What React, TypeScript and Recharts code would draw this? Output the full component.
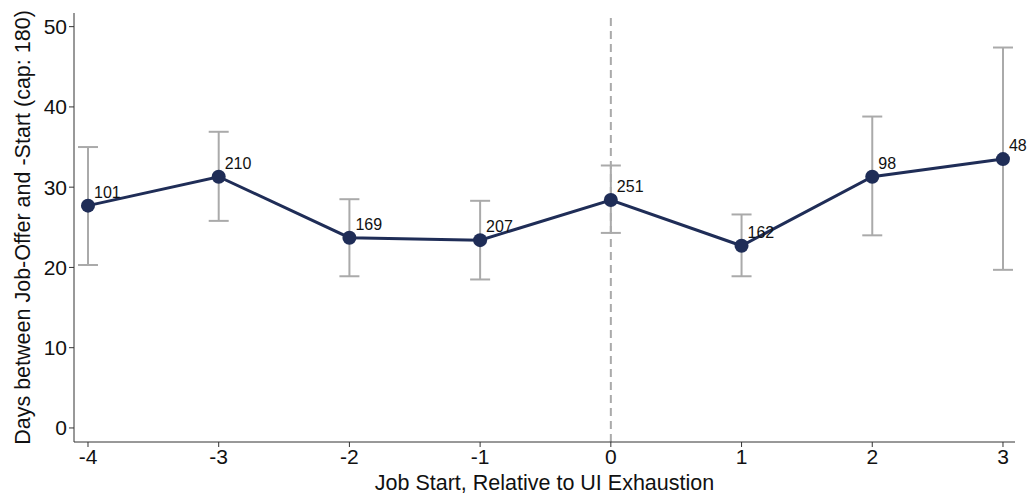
import { LineChart, Line, XAxis, YAxis, ErrorBar, ReferenceLine, LabelList } from 'recharts';

const periods = [-4, -3, -2, -1, 0, 1, 2, 3];
const meanDays = [27.7, 31.3, 23.7, 23.4, 28.4, 22.7, 31.3, 33.5];
const ciLow = [20.3, 25.8, 18.9, 18.5, 24.3, 18.9, 24.0, 19.7];
const ciHigh = [35.0, 36.9, 28.5, 28.3, 32.7, 26.6, 38.8, 47.4];
const counts = [101, 210, 169, 207, 251, 162, 98, 48];
const yTicks = [0, 10, 20, 30, 40, 50];

const data = periods.map((p, i) => ({
  period: p,
  days: meanDays[i],
  err: [meanDays[i] - ciLow[i], ciHigh[i] - meanDays[i]],
  n: counts[i],
}));

const NAVY = '#1f2d57';
const FONT = "'Liberation Sans', Arial, sans-serif";

// count label sits up and to the right of each dot
const CountLabel = (props: any) => {
  const { x, y, value } = props;
  return (
    <text x={x + 6} y={y - 8} fontSize={16} fill="#111" fontFamily={FONT}>
      {value}
    </text>
  );
};

export default function App() {
  return (
    <div style={{ position: 'absolute', left: 0, top: 0, background: '#fff' }}>
      <LineChart width={1030} height={495} data={data} margin={{ top: 13, right: 15, left: 0, bottom: 0 }}>
        <XAxis
          dataKey="period"
          type="number"
          domain={[-4.107, 3.092]}
          ticks={periods}
          allowDataOverflow
          height={53}
          stroke="#333"
          tickSize={5}
          tick={{ fill: '#111', fontSize: 21, fontFamily: FONT }}
          label={{ value: 'Job Start, Relative to UI Exhaustion', position: 'insideBottom', offset: 5, fill: '#111', fontSize: 21.5, fontFamily: FONT }}
        />
        <YAxis
          type="number"
          domain={[-1.75, 51.7]}
          ticks={yTicks}
          allowDataOverflow
          width={74}
          stroke="#333"
          tickSize={5}
          tick={{ fill: '#111', fontSize: 21, fontFamily: FONT }}
          label={{ value: 'Days between Job-Offer and -Start (cap: 180)', angle: -90, position: 'insideLeft', offset: 22, style: { textAnchor: 'middle' }, fill: '#111', fontSize: 21.5, fontFamily: FONT }}
        />
        <ReferenceLine x={0} stroke="#aaa" strokeWidth={2} strokeDasharray="8 5" />
        <Line
          type="linear"
          dataKey="days"
          stroke={NAVY}
          strokeWidth={3}
          dot={{ r: 7, fill: NAVY, stroke: NAVY, strokeWidth: 0 }}
          activeDot={false}
          isAnimationActive={false}
        >
          <ErrorBar dataKey="err" width={10} stroke="#aaa" strokeWidth={2} direction="y" />
          <LabelList dataKey="n" content={CountLabel} />
        </Line>
      </LineChart>
    </div>
  );
}
